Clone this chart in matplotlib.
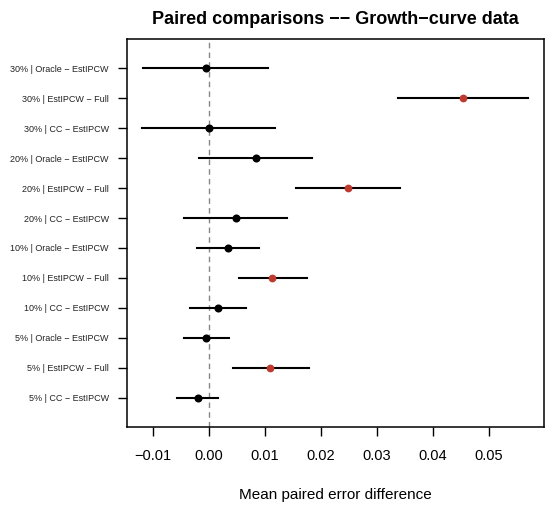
import matplotlib
matplotlib.use("Agg")
import matplotlib.pyplot as plt

plt.rcParams["font.family"] = ["Liberation Sans", "DejaVu Sans"]

# rows from bottom to top
labels = [
    "5% | CC \u2212 EstIPCW",
    "5% | EstIPCW \u2212 Full",
    "5% | Oracle \u2212 EstIPCW",
    "10% | CC \u2212 EstIPCW",
    "10% | EstIPCW \u2212 Full",
    "10% | Oracle \u2212 EstIPCW",
    "20% | CC \u2212 EstIPCW",
    "20% | EstIPCW \u2212 Full",
    "20% | Oracle \u2212 EstIPCW",
    "30% | CC \u2212 EstIPCW",
    "30% | EstIPCW \u2212 Full",
    "30% | Oracle \u2212 EstIPCW",
]
est = [-0.00196, 0.01098, -0.00043, 0.00160, 0.01134, 0.00339,
       0.00481, 0.02478, 0.00838, 0.00005, 0.04538, -0.00053]
lower = [-0.00565, 0.00428, -0.00446, -0.00333, 0.00538, -0.00203,
         -0.00435, 0.01562, -0.00168, -0.01187, 0.03369, -0.01166]
upper = [0.00166, 0.01783, 0.00367, 0.00660, 0.01747, 0.00891,
         0.01390, 0.03405, 0.01836, 0.01180, 0.05702, 0.01052]
is_full = [("Full" in s) for s in labels]

RED = "#BE3A2E"

fig = plt.figure(figsize=(5.5, 5.07), dpi=100)
ax = fig.add_axes([0.2304, 0.1578, 0.7586, 0.7652])

ypos = list(range(1, len(labels) + 1))

ax.axvline(0, color="#888888", lw=1, ls=(0, (4, 3)), zorder=1)

for y, e, lo, hi, f in zip(ypos, est, lower, upper, is_full):
    ax.plot([lo, hi], [y, y], color="black", lw=1.5, zorder=2)
    ax.plot(e, y, "o", color=RED if f else "black", ms=5.6 if f else 5.8,
            mec="none", zorder=3)

xmin, xmax = min(lower), max(upper)
ext = 0.04 * (xmax - xmin)
ax.set_xlim(xmin - ext, xmax + ext)
ax.set_ylim(0.5 - 0.48, 12.5 + 0.48)

ax.set_yticks(ypos)
ax.set_yticklabels(labels, fontsize=6.5, color="#222222")
ax.set_xticks([-0.01, 0.0, 0.01, 0.02, 0.03, 0.04, 0.05])
ax.set_xticklabels(["\u22120.01", "0.00", "0.01", "0.02", "0.03", "0.04", "0.05"],
                   fontsize=10.5)
ax.tick_params(axis="y", length=6.5, width=1, pad=6.5)
ax.tick_params(axis="x", length=6.5, width=1, pad=9)
for sp in ax.spines.values():
    sp.set_linewidth(1.1)

ax.set_xlabel("Mean paired error difference", fontsize=11, labelpad=18)
ax.set_title("Paired comparisons \u2212\u2212 Growth\u2212curve data",
             fontsize=13, fontweight="bold", pad=11)

fig.savefig("out.png", dpi=100)
